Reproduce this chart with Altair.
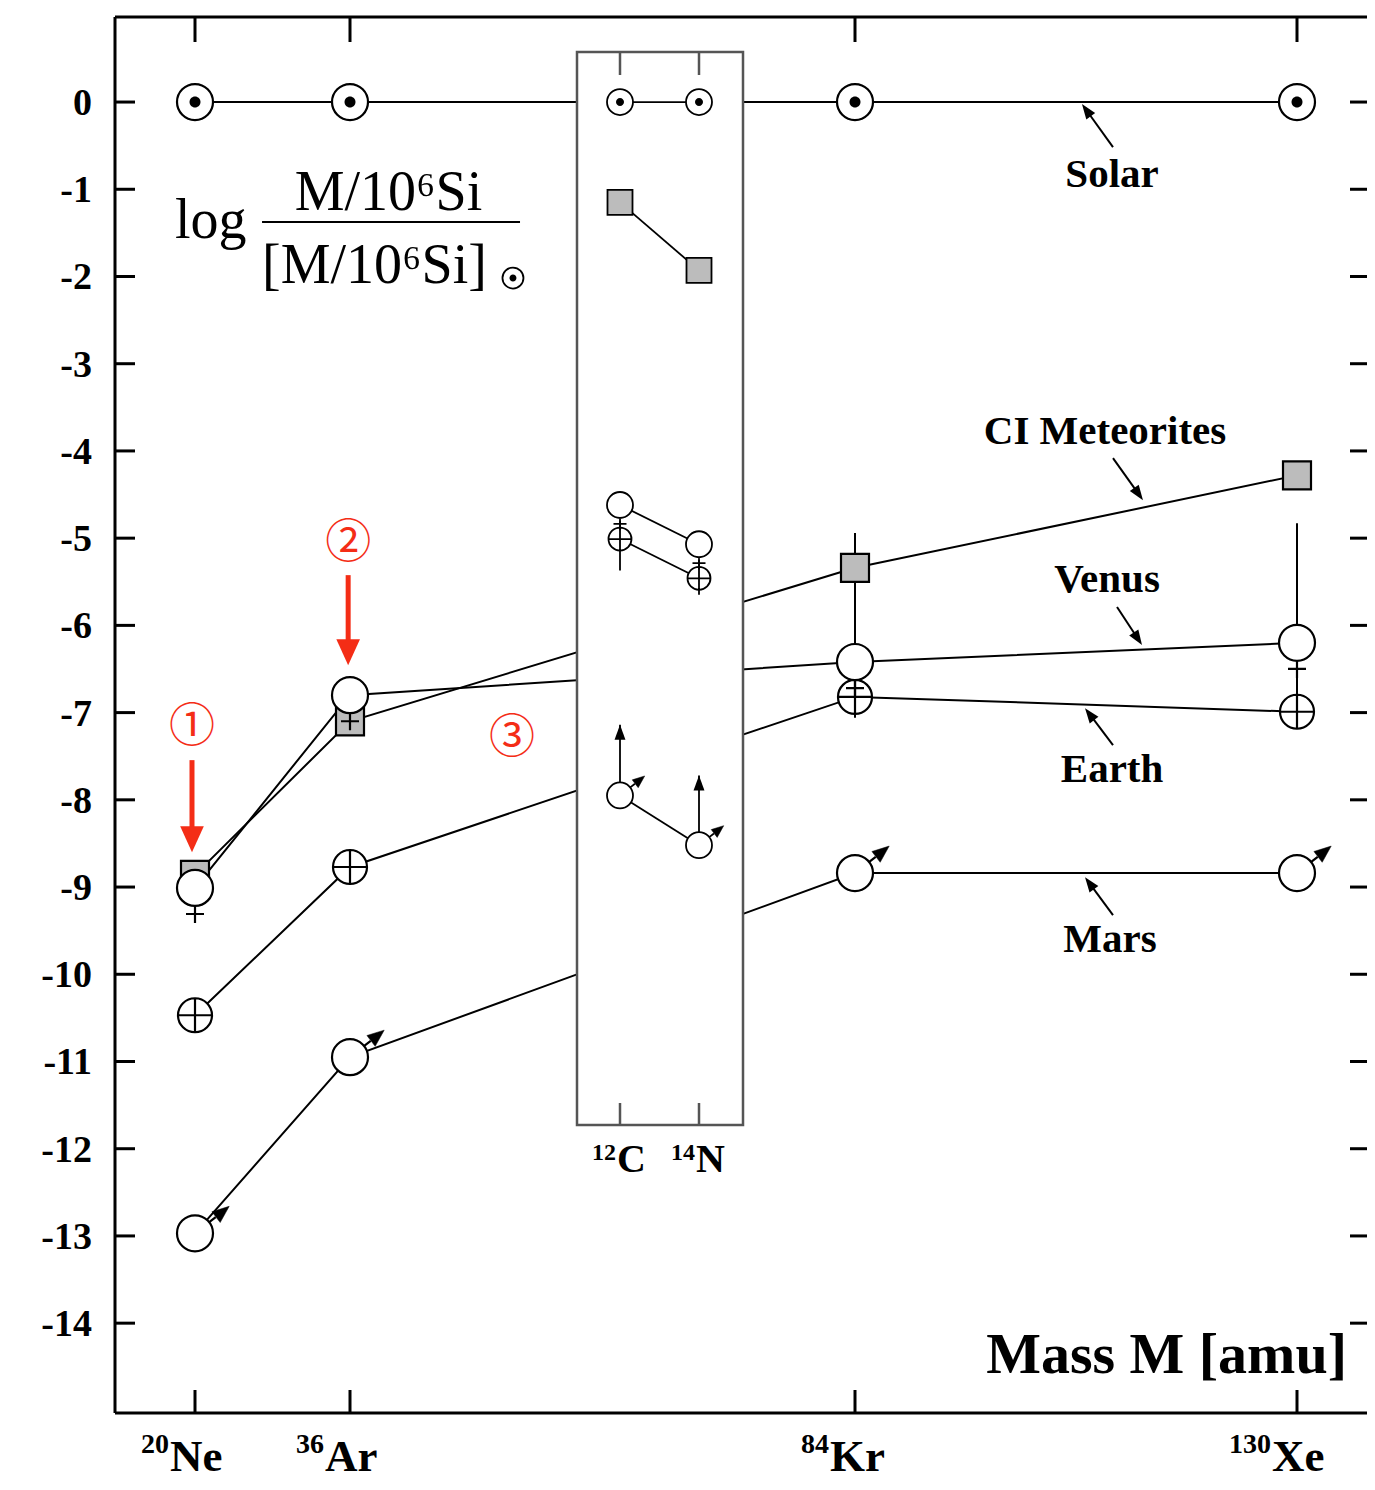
import math
import altair as alt
import pandas as pd

# ---------------- data ----------------
ISOTOPES = ["Ne", "Ar", "Kr", "Xe"]
MASS_NUMBERS = [20, 36, 84, 130]
MASS_LABELS = ["20", "36", "84", "130"]
SOLAR = [0.0, 0.0, 0.0, 0.0]
CI_METEORITES = [-8.86, -7.10, -5.34, -4.28]
VENUS = [-9.01, -6.80, -6.42, -6.20]
EARTH = [-10.47, -8.77, -6.82, -6.99]
MARS = [-12.97, -10.95, -8.84, -8.84]

RANGE_MASS = [84, 130]
RANGE_TOP = [-4.94, -4.83]
RANGE_BOTTOM = [-7.06, -6.99]

CN_ISOTOPES = ["C", "N"]
CN_MASS_NUMBERS = [12, 14]
CN_MASS_LABELS = ["12", "14"]
SOLAR_CN = [0.0, 0.0]
CI_CN = [-1.15, -1.93]
VENUS_CN = [-4.62, -5.07]
EARTH_CN = [-5.01, -5.46]
MARS_CN = [-7.95, -8.52]
MARS_CN_LIMIT_TIP = [-7.14, -7.72]
EARTH_CN_RANGE_TOP = [-4.80, -5.25]
EARTH_CN_RANGE_BOTTOM = [-5.37, -5.65]

Y_TICKS = [0, -1, -2, -3, -4, -5, -6, -7, -8, -9, -10, -11, -12, -13, -14]
Y_TICK_LABELS = [str(v) for v in Y_TICKS]

SERIES_LABELS = ["Solar", "CI Meteorites", "Venus", "Earth", "Mars"]
SERIES_LABEL_MASS = [110.75, 110.02, 110.23, 110.75, 110.54]
SERIES_LABEL_VALUE = [-0.837, -3.784, -5.481, -7.66, -9.609]
POINTER_TAIL_MASS = [110.85, 110.85, 111.27, 110.85, 110.85]
POINTER_TAIL_VALUE = [-0.516, -4.082, -5.79, -7.373, -9.322]
POINTER_TIP_MASS = [107.62, 113.97, 113.87, 107.94, 107.94]
POINTER_TIP_VALUE = [-0.023, -4.564, -6.226, -6.949, -8.887]

RED_MARKS = ["①", "②", "③"]
RED_MARK_MASS = [19.69, 35.81, 51.40]
RED_MARK_VALUE = [-7.167, -5.057, -7.293]
RED_ARROW_MASS = [19.69, 35.81]
RED_ARROW_TAIL = [-7.545, -5.424]
RED_ARROW_TIP = [-8.60, -6.456]

FORMULA_LOG = ["log"]
FORMULA_NUM = ["M/10⁶Si"]
FORMULA_DEN = ["[M/10⁶Si]"]
FORMULA_LOG_MASS, FORMULA_LOG_VALUE = [17.94], [-1.559]
FORMULA_NUM_MASS, FORMULA_NUM_VALUE = [39.66], [-1.238]
FORMULA_DEN_MASS, FORMULA_DEN_VALUE = [26.92], [-2.075]
FORMULA_BAR_MASS = [26.92, 52.16]
FORMULA_BAR_VALUE = [-1.376]
FORMULA_SUN_MASS, FORMULA_SUN_VALUE = [51.49], [-2.018]

AXIS_TITLE = ["Mass M [amu]"]

# ---------------- styling / geometry ----------------
SERIF = "Liberation Serif"
CJK = "Noto Sans CJK JP"
RED = "#f42d16"
GRAY_FILL = "#bcbcbc"
FRAME_GRAY = "#555555"

PLOT_W, PLOT_H = 1252, 1396
X_RANGE = [80, 235, 740, 1182]
CN_RANGE = [505, 584]
Y_DOMAIN = [-15.03, 0.975]

XS = alt.Scale(domain=MASS_NUMBERS, range=X_RANGE, nice=False, zero=False)
XC = alt.Scale(domain=CN_MASS_NUMBERS, range=CN_RANGE, nice=False, zero=False)
YS = alt.Scale(domain=Y_DOMAIN, nice=False, zero=False)


def XM(f="mass"):
    return alt.X(f"{f}:Q", scale=XS, axis=None)


def XI(f="mass"):
    return alt.X(f"{f}:Q", scale=XC, axis=None)


def YV(f="value"):
    return alt.Y(f"{f}:Q", scale=YS, axis=None)


def x_px(m):
    d, r = MASS_NUMBERS, X_RANGE
    i = 0 if m <= d[1] else (1 if m <= d[2] else 2)
    return r[i] + (m - d[i]) * (r[i + 1] - r[i]) / (d[i + 1] - d[i])


def x_val(px):
    d, r = MASS_NUMBERS, X_RANGE
    i = 0 if px <= r[1] else (1 if px <= r[2] else 2)
    return d[i] + (px - r[i]) * (d[i + 1] - d[i]) / (r[i + 1] - r[i])


def y_px(v):
    return (Y_DOMAIN[1] - v) * PLOT_H / (Y_DOMAIN[1] - Y_DOMAIN[0])


def y_val(py):
    return Y_DOMAIN[1] - py * (Y_DOMAIN[1] - Y_DOMAIN[0]) / PLOT_H


CIRCLE = "M 1 0 A 1 1 0 1 1 -1 0 A 1 1 0 1 1 1 0 Z"
SQUARE = "M -1 -1 L 1 -1 L 1 1 L -1 1 Z"
VENUS_SYM = CIRCLE + " M 0 1 L 0 1.95 M -0.5 1.45 L 0.5 1.45"
EARTH_SYM = CIRCLE + " M -1 0 L 1 0 M 0 -1 L 0 1"
MARS_SYM = CIRCLE + " M 0.79 -0.62 L 1.15 -0.9"
MARS_HEAD = "M 1.9 -1.5 L 1.4 -0.6 L 0.94 -1.2 Z"
ARROW_HEAD = "M 0 0 L 0.8 2.2 L -0.8 2.2 Z"
RED_HEAD = "M 0 0 L 1 2.2 L -1 2.2 Z"

# ---------------- tables ----------------
def series_table(masses, isos, groups):
    rows = []
    for name, vals in groups:
        for iso, m, v in zip(isos, masses, vals):
            rows.append({"series": name, "isotope": iso, "mass": m, "value": v})
    return pd.DataFrame(rows)


main = series_table(MASS_NUMBERS, ISOTOPES, [("Solar", SOLAR), ("CI", CI_METEORITES),
                                             ("Venus", VENUS), ("Earth", EARTH), ("Mars", MARS)])
cn = series_table(CN_MASS_NUMBERS, CN_ISOTOPES, [("Solar", SOLAR_CN), ("CI", CI_CN),
                                                ("Venus", VENUS_CN), ("Earth", EARTH_CN), ("Mars", MARS_CN)])


def sub(df, name):
    return df[df["series"] == name]


one = pd.DataFrame({"k": [0]})

layers = []

# main connecting lines
layers.append(alt.Chart(main).mark_line(color="black", strokeWidth=2).encode(
    x=XM(), y=YV(), detail="series:N", order="mass:Q"))
# vertical range bars at Kr and Xe
layers.append(alt.Chart(pd.DataFrame({"mass": RANGE_MASS, "top": RANGE_TOP, "bottom": RANGE_BOTTOM}))
              .mark_rule(color="black", strokeWidth=2).encode(x=XM(), y=YV("top"), y2=alt.Y2("bottom:Q")))

# inset frame
layers.append(alt.Chart(one).mark_rect(fill="white", stroke=FRAME_GRAY, strokeWidth=2.5).encode(
    x=alt.value(462), x2=alt.value(628), y=alt.value(35), y2=alt.value(1108)))
cn_ticks = pd.DataFrame({"mass": CN_MASS_NUMBERS})
layers.append(alt.Chart(cn_ticks).mark_rule(color=FRAME_GRAY, strokeWidth=2.5).encode(
    x=XI(), y=alt.value(35), y2=alt.value(58)))
layers.append(alt.Chart(cn_ticks).mark_rule(color=FRAME_GRAY, strokeWidth=2.5).encode(
    x=XI(), y=alt.value(1086), y2=alt.value(1108)))

# inset lines
layers.append(alt.Chart(cn).mark_line(color="black", strokeWidth=1.8).encode(
    x=XI(), y=YV(), detail="series:N", order="mass:Q"))
layers.append(alt.Chart(pd.DataFrame({"mass": CN_MASS_NUMBERS, "top": EARTH_CN_RANGE_TOP,
                                      "bottom": EARTH_CN_RANGE_BOTTOM}))
              .mark_rule(color="black", strokeWidth=1.8).encode(x=XI(), y=YV("top"), y2=alt.Y2("bottom:Q")))
lim = pd.DataFrame({"mass": CN_MASS_NUMBERS, "value": MARS_CN, "tip": MARS_CN_LIMIT_TIP})
layers.append(alt.Chart(lim).mark_rule(color="black", strokeWidth=1.8).encode(
    x=XI(), y=YV(), y2=alt.Y2("tip:Q")))
layers.append(alt.Chart(lim).mark_point(shape=ARROW_HEAD, size=(2 * 15 / 2.2) ** 2, filled=True,
                                        fill="black", strokeWidth=0, opacity=1).encode(x=XI(), y=YV("tip")))


def pts(df, xenc, shape, diam, fill, sw=2.2):
    return alt.Chart(df).mark_point(shape=shape, size=diam ** 2, filled=True, fill=fill,
                                    stroke="black", strokeWidth=sw, opacity=1).encode(x=xenc, y=YV())


# main markers
layers.append(pts(sub(main, "CI"), XM(), SQUARE, 28, GRAY_FILL))
layers.append(pts(sub(main, "Solar"), XM(), CIRCLE, 36, "white"))
layers.append(pts(sub(main, "Solar"), XM(), CIRCLE, 11, "black", sw=0))
layers.append(pts(sub(main, "Earth"), XM(), EARTH_SYM, 34, "white"))
layers.append(pts(sub(main, "Venus"), XM(), VENUS_SYM, 36, "white"))
layers.append(pts(sub(main, "Mars"), XM(), MARS_SYM, 36, "white"))
layers.append(pts(sub(main, "Mars"), XM(), MARS_HEAD, 36, "black", sw=0.5))

# inset markers
layers.append(pts(sub(cn, "CI"), XI(), SQUARE, 25, GRAY_FILL, sw=1.8))
layers.append(pts(sub(cn, "Solar"), XI(), CIRCLE, 26, "white", sw=1.8))
layers.append(pts(sub(cn, "Solar"), XI(), CIRCLE, 8, "black", sw=0))
layers.append(pts(sub(cn, "Earth"), XI(), EARTH_SYM, 23, "white", sw=1.8))
layers.append(pts(sub(cn, "Venus"), XI(), VENUS_SYM, 26, "white", sw=1.8))
layers.append(pts(sub(cn, "Mars"), XI(), MARS_SYM, 26, "white", sw=1.8))
layers.append(pts(sub(cn, "Mars"), XI(), MARS_HEAD, 26, "black", sw=0.5))

# series labels with pointer arrows
layers.append(alt.Chart(pd.DataFrame({"mass": SERIES_LABEL_MASS, "value": SERIES_LABEL_VALUE,
                                      "label": SERIES_LABELS}))
              .mark_text(font=SERIF, fontWeight="bold", fontSize=41, align="center", baseline="middle",
                         color="black")
              .encode(x=XM(), y=YV(), text="label:N"))
HEAD_LEN = 15
prow = []
for tm, tv, hm, hv in zip(POINTER_TAIL_MASS, POINTER_TAIL_VALUE, POINTER_TIP_MASS, POINTER_TIP_VALUE):
    tx, ty, hx, hy = x_px(tm), y_px(tv), x_px(hm), y_px(hv)
    dx, dy = hx - tx, hy - ty
    L = math.hypot(dx, dy)
    ex, ey = hx - dx / L * (HEAD_LEN - 3), hy - dy / L * (HEAD_LEN - 3)
    prow.append({"m0": tm, "v0": tv, "m1": x_val(ex), "v1": y_val(ey), "mass": hm, "value": hv,
                 "angle": math.degrees(math.atan2(dx, -dy)) % 360})
pointers = pd.DataFrame(prow)
layers.append(alt.Chart(pointers).mark_rule(color="black", strokeWidth=2).encode(
    x=XM("m0"), y=YV("v0"), x2=alt.X2("m1:Q"), y2=alt.Y2("v1:Q")))
layers.append(alt.Chart(pointers).mark_point(shape=ARROW_HEAD, size=(2 * HEAD_LEN / 2.2) ** 2, filled=True,
                                             fill="black", strokeWidth=0, opacity=1)
              .encode(x=XM(), y=YV(), angle=alt.Angle("angle:Q", scale=None)))

# formula
layers.append(alt.Chart(pd.DataFrame({"mass": FORMULA_LOG_MASS, "value": FORMULA_LOG_VALUE, "t": FORMULA_LOG}))
              .mark_text(font=SERIF, fontSize=56, align="left", baseline="alphabetic", color="black")
              .encode(x=XM(), y=YV(), text="t:N"))
layers.append(alt.Chart(pd.DataFrame({"mass": FORMULA_NUM_MASS, "value": FORMULA_NUM_VALUE, "t": FORMULA_NUM}))
              .mark_text(font=SERIF, fontSize=56, align="center", baseline="alphabetic", color="black")
              .encode(x=XM(), y=YV(), text="t:N"))
layers.append(alt.Chart(pd.DataFrame({"mass": FORMULA_DEN_MASS, "value": FORMULA_DEN_VALUE, "t": FORMULA_DEN}))
              .mark_text(font=SERIF, fontSize=56, align="left", baseline="alphabetic", color="black")
              .encode(x=XM(), y=YV(), text="t:N"))
layers.append(alt.Chart(pd.DataFrame({"m0": [FORMULA_BAR_MASS[0]], "m1": [FORMULA_BAR_MASS[1]],
                                      "value": FORMULA_BAR_VALUE}))
              .mark_rule(color="black", strokeWidth=2).encode(x=XM("m0"), x2=alt.X2("m1:Q"), y=YV()))
sun = pd.DataFrame({"mass": FORMULA_SUN_MASS, "value": FORMULA_SUN_VALUE})
layers.append(pts(sun, XM(), CIRCLE, 21, "white", sw=1.8))
layers.append(pts(sun, XM(), CIRCLE, 7, "black", sw=0))

# red annotations
layers.append(alt.Chart(pd.DataFrame({"mass": RED_MARK_MASS, "value": RED_MARK_VALUE, "t": RED_MARKS}))
              .mark_text(font=CJK, fontSize=46, align="center", baseline="middle", color=RED)
              .encode(x=XM(), y=YV(), text="t:N"))
red = pd.DataFrame({"mass": RED_ARROW_MASS, "top": RED_ARROW_TAIL, "value": RED_ARROW_TIP,
                    "end": [v + 18 / (PLOT_H / (Y_DOMAIN[1] - Y_DOMAIN[0])) for v in RED_ARROW_TIP]})
layers.append(alt.Chart(red).mark_rule(color=RED, strokeWidth=5).encode(
    x=XM(), y=YV("top"), y2=alt.Y2("end:Q")))
layers.append(alt.Chart(red).mark_point(shape=RED_HEAD, size=(2 * 26 / 2.2) ** 2, filled=True, fill=RED,
                                        strokeWidth=0, opacity=1, angle=180).encode(x=XM(), y=YV()))

# frame and ticks
layers.append(alt.Chart(one).mark_rule(color="black", strokeWidth=3).encode(
    x=alt.value(0), y=alt.value(0), y2=alt.value(PLOT_H)))
layers.append(alt.Chart(one).mark_rule(color="black", strokeWidth=3).encode(
    x=alt.value(0), x2=alt.value(PLOT_W), y=alt.value(0)))
layers.append(alt.Chart(one).mark_rule(color="black", strokeWidth=3).encode(
    x=alt.value(0), x2=alt.value(PLOT_W), y=alt.value(PLOT_H)))
yt = pd.DataFrame({"value": Y_TICKS, "label": Y_TICK_LABELS})
layers.append(alt.Chart(yt).mark_rule(color="black", strokeWidth=3).encode(
    x=alt.value(0), x2=alt.value(20), y=YV()))
layers.append(alt.Chart(yt).mark_rule(color="black", strokeWidth=3).encode(
    x=alt.value(PLOT_W - 17), x2=alt.value(PLOT_W), y=YV()))
layers.append(alt.Chart(yt).mark_text(font=SERIF, fontWeight="bold", fontSize=38, align="right",
                                      baseline="middle", dy=2, color="black")
              .encode(x=alt.value(-23), y=YV(), text="label:N"))
xt = pd.DataFrame({"mass": MASS_NUMBERS, "num": MASS_LABELS, "el": ISOTOPES})
layers.append(alt.Chart(xt).mark_rule(color="black", strokeWidth=3).encode(
    x=XM(), y=alt.value(0), y2=alt.value(25)))
layers.append(alt.Chart(xt).mark_rule(color="black", strokeWidth=3).encode(
    x=XM(), y=alt.value(PLOT_H - 23), y2=alt.value(PLOT_H)))
layers.append(alt.Chart(xt).mark_text(font=SERIF, fontWeight="bold", fontSize=45, align="left",
                                      baseline="alphabetic", dx=-25, color="black")
              .encode(x=XM(), y=alt.value(1454), text="el:N"))
layers.append(alt.Chart(xt).mark_text(font=SERIF, fontWeight="bold", fontSize=28, align="right",
                                      baseline="alphabetic", dx=-26, color="black")
              .encode(x=XM(), y=alt.value(1436), text="num:N"))
ct = pd.DataFrame({"mass": CN_MASS_NUMBERS, "num": CN_MASS_LABELS, "el": CN_ISOTOPES})
layers.append(alt.Chart(ct).mark_text(font=SERIF, fontWeight="bold", fontSize=40, align="left",
                                      baseline="alphabetic", dx=-3, color="black")
              .encode(x=XI(), y=alt.value(1155), text="el:N"))
layers.append(alt.Chart(ct).mark_text(font=SERIF, fontWeight="bold", fontSize=24, align="right",
                                      baseline="alphabetic", dx=-4, color="black")
              .encode(x=XI(), y=alt.value(1143), text="num:N"))
layers.append(alt.Chart(pd.DataFrame({"t": AXIS_TITLE})).mark_text(
    font=SERIF, fontWeight="bold", fontSize=58, align="right", baseline="alphabetic", color="black")
    .encode(x=alt.value(1232), y=alt.value(1356), text="t:N"))

chart = (alt.layer(*layers)
         .resolve_scale(x="independent")
         .properties(width=PLOT_W, height=PLOT_H,
                     padding={"left": 107, "top": 9, "right": 0, "bottom": 69},
                     autosize=alt.AutoSizeParams(type="none"), background="white")
         .configure_view(stroke="transparent"))

chart.save("out.html", embed_options={"renderer": "svg", "actions": False})
